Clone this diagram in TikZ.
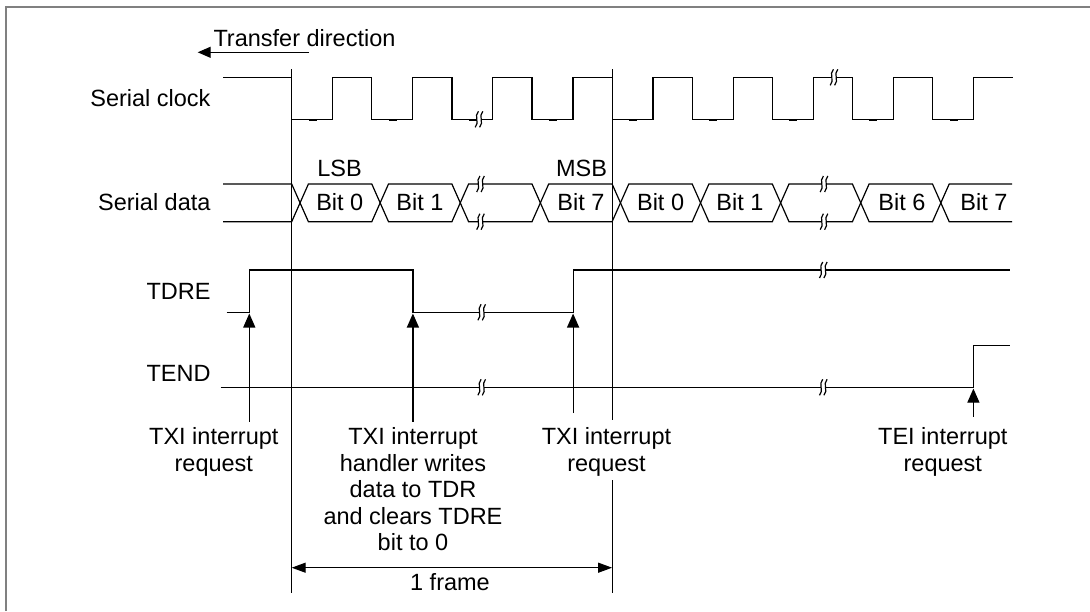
\documentclass[tikz,border=0pt]{standalone}
\usepackage{fontspec}
\setmainfont{Liberation Sans}
\usetikzlibrary{arrows.meta}
\newcommand\sigbreak[2]{%
  \fill[white] ({#1-2.3},{#2-2.5}) rectangle ({#1+2.3},{#2+2.5});
  \draw[sig] ({#1-2.2+1.6},{#2-8}) .. controls ({#1-2.2-3.2},{#2-3}) and ({#1-2.2+3.2},{#2+3}) .. ({#1-2.2-1.6},{#2+8});
  \draw[sig] ({#1+2.2+1.6},{#2-8}) .. controls ({#1+2.2-3.2},{#2-3}) and ({#1+2.2+3.2},{#2+3}) .. ({#1+2.2-1.6},{#2+8});
}
\begin{document}
\begin{tikzpicture}[x=1pt,y=-1pt,
  sig/.style={line width=1.2pt, line join=miter},
  lbl/.style={font=\fontsize{23.5}{26.5}\selectfont, inner sep=0pt},
  mlbl/.style={lbl, align=center, anchor=north},
  arr/.style={line width=1.2pt, -{Triangle[length=14pt,width=12pt]}},
  dimarr/.style={line width=1.2pt, {Triangle[length=14pt,width=10pt]}-{Triangle[length=14pt,width=10pt]}},
  frameline/.style={line width=1.8pt, black!50}]
\useasboundingbox (0,0) rectangle (1090,611);
\fill[white] (0,0) rectangle (1090,611);
% border (top and left)
\draw[frameline] (6,611) -- (6,6.7) -- (1090,6.7);

% transfer direction
\node[lbl, anchor=base west] (tdir) at (213.3,46.8) {Transfer direction};
\coordinate (tdA) at (309,52.3);
\coordinate (tdB) at (197.7,52.3);
\draw[line width=1.2pt, -{Triangle[length=13pt,width=11pt]}] (tdA) -- (tdB);

% signal names
\node[lbl, anchor=base east] (nclk) at (210.7,106.5) {Serial clock};
\node[lbl, anchor=base east] (ndat) at (210.7,210) {Serial data};
\node[lbl, anchor=base east] (ntdre) at (210.7,299.5) {TDRE};
\node[lbl, anchor=base east] (ntend) at (210.7,381.2) {TEND};

% frame boundary lines
\draw[sig] (291.7,69) -- (291.7,593);
\draw[sig] (612.1,69) -- (612.1,420);
\draw[sig] (612.1,480) -- (612.1,593);

% serial clock
\draw[sig] (223,77.3) \foreach \k in {0,...,8}{
   -- ({291.7+80.1*\k},77.3) -- ({291.7+80.1*\k},119.3)
   -- ({332.6+80.1*\k},119.3) -- ({332.6+80.1*\k},77.3)} -- (1013,77.3);
\foreach \k in {0,...,8}{
  \draw[line width=2.2pt] ({291.7+80.1*\k+17},119.6) -- ({291.7+80.1*\k+25},119.6);
}

% serial data
\def\T{184}\def\B{221.7}
\draw[sig] (223,\T) -- (291.7,\T) -- (308.4,\B) -- (371.8,\B) -- (388.5,\T) -- (451.9,\T)
  -- (468.6,\B) -- (532.0,\B) -- (548.7,\T) -- (612.1,\T) -- (628.8,\B) -- (692.2,\B)
  -- (708.9,\T) -- (772.3,\T) -- (789.0,\B) -- (852.4,\B) -- (869.1,\T) -- (932.5,\T)
  -- (949.2,\B) -- (1012,\B);
\draw[sig] (223,\B) -- (291.7,\B) -- (308.4,\T) -- (371.8,\T) -- (388.5,\B) -- (451.9,\B)
  -- (468.6,\T) -- (532.0,\T) -- (548.7,\B) -- (612.1,\B) -- (628.8,\T) -- (692.2,\T)
  -- (708.9,\B) -- (772.3,\B) -- (789.0,\T) -- (852.4,\T) -- (869.1,\B) -- (932.5,\B)
  -- (949.2,\T) -- (1012,\T);

\node[lbl, anchor=base] (lsb) at (339.5,176.7) {LSB};
\node[lbl, anchor=base] (msb) at (581.5,176.7) {MSB};
\node[lbl, anchor=base] (b0a) at (339.8,210) {Bit 0};
\node[lbl, anchor=base] (b1a) at (420,210) {Bit 1};
\node[lbl, anchor=base] (b7a) at (581,210) {Bit 7};
\node[lbl, anchor=base] (b0b) at (660.6,210) {Bit 0};
\node[lbl, anchor=base] (b1b) at (740,210) {Bit 1};
\node[lbl, anchor=base] (b6) at (902,210) {Bit 6};
\node[lbl, anchor=base] (b7b) at (984,210) {Bit 7};

% TDRE
\draw[sig] (226.7,312.3) -- (249.3,312.3) -- (249.3,270) -- (412.9,270) -- (412.9,312.3)
  -- (573.1,312.3) -- (573.1,270) -- (1010,270);
% TEND
\draw[sig] (220.7,387.3) -- (973.4,387.3) -- (973.4,345.7) -- (1010,345.7);

% break marks
\sigbreak{479}{119.3}
\sigbreak{834}{77.3}
\sigbreak{480.5}{184}
\sigbreak{480.5}{221.7}
\sigbreak{824}{184}
\sigbreak{824}{221.7}
\sigbreak{481.7}{312.3}
\sigbreak{823.3}{270}
\sigbreak{481.7}{387.3}
\sigbreak{823.3}{387.3}

% interrupt arrows
\coordinate (a1s) at (249.3,421.7); \coordinate (a1e) at (249.3,313.5);
\coordinate (a2s) at (412.9,421.7); \coordinate (a2e) at (412.9,313.5);
\coordinate (a3s) at (573.1,413);   \coordinate (a3e) at (573.1,313.5);
\coordinate (a4s) at (973.4,416.7); \coordinate (a4e) at (973.4,388.6);
\draw[arr] (a1s) -- (a1e);
\draw[arr] (a2s) -- (a2e);
\draw[arr] (a3s) -- (a3e);
\draw[arr] (a4s) -- (a4e);

% bottom labels
\node[mlbl] (txi1) at (213.8,427.7) {TXI interrupt\\request};
\node[mlbl] (txi2) at (413,427.7) {TXI interrupt\\handler writes\\data to TDR\\and clears TDRE\\bit to 0};
\node[mlbl] (txi3) at (606.5,427.7) {TXI interrupt\\request};
\node[mlbl] (tei) at (942.8,427.7) {TEI interrupt\\request};

% one frame dimension
\coordinate (fa) at (291.7,567.7);
\coordinate (fb) at (612.1,567.7);
\draw[dimarr] (fa) -- (fb);
\node[lbl, anchor=base] (onef) at (450,590) {1 frame};
\end{tikzpicture}
\end{document}
